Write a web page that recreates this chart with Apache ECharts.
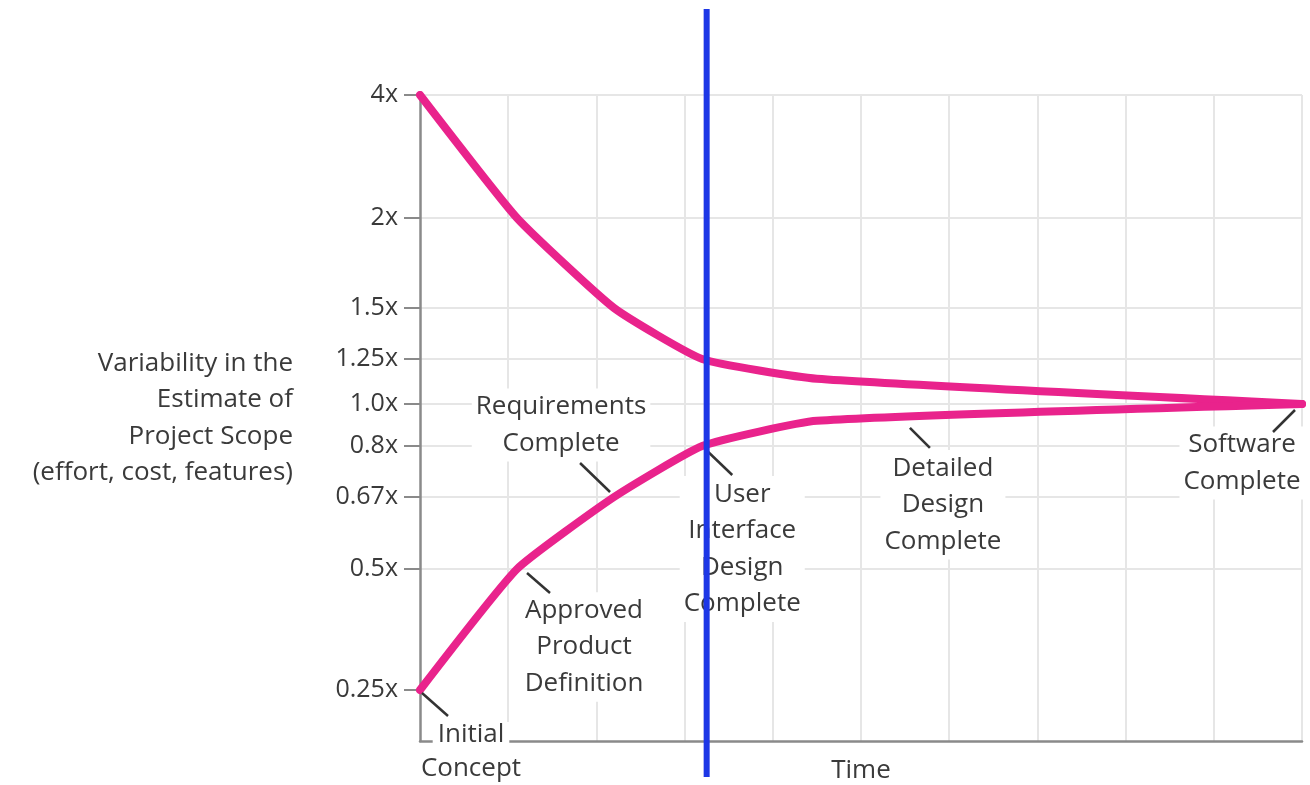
<!DOCTYPE html>
<html><head><meta charset="utf-8">
<script src="https://cdn.jsdelivr.net/npm/echarts@6/dist/echarts.min.js"></script>
<style>html,body{margin:0;padding:0;background:#fff}#chart{width:1310px;height:785px}</style>
</head><body><div id="chart"></div>
<script>
// ---- data ----
const milestoneTime = [0, 1.1, 2.2, 3.2, 4.5, 10];
const upperEstimate = [4, 2, 1.5, 1.25, 1.14, 1.0];
const lowerEstimate = [0.25, 0.5, 0.67, 0.8, 0.92, 1.0];
const milestoneNames = ['Initial\nConcept', 'Approved\nProduct\nDefinition', 'Requirements\nComplete',
  'User\nInterface\nDesign\nComplete', 'Detailed\nDesign\nComplete', 'Software\nComplete'];
const yTickValues = [0.25, 0.5, 0.67, 0.8, 1.0, 1.25, 1.5, 2, 4];
const yTickLabels = ['0.25x', '0.5x', '0.67x', '0.8x', '1.0x', '1.25x', '1.5x', '2x', '4x'];
// hand-drawn vertical scale of the original: axis units assigned to each tick value
const yScaleStops = [51, 172, 244, 295, 337, 382, 433, 523, 646];
const yScaleMax = 646;
const timeMax = 10;
const markerTime = 3.25;

function toAxis(v) {
  for (let i = 0; i < yTickValues.length - 1; i++) {
    const a = yTickValues[i], b = yTickValues[i + 1];
    if (v >= a && v <= b) return yScaleStops[i] + (v - a) / (b - a) * (yScaleStops[i + 1] - yScaleStops[i]);
  }
  return v < yTickValues[0] ? yScaleStops[0] : yScaleStops[yScaleStops.length - 1];
}

const FONT = 'Open Sans';
const TXT = '#3a3a3a';
const PINK = '#e9238c';
const GRID = '#e6e6e6';
const AXIS = '#8a8a8a';

const chart = echarts.init(document.getElementById('chart'));
chart.setOption({
  animation: false,
  backgroundColor: '#fff',
  grid: { left: 420, right: 8, top: 95, bottom: 44, outerBoundsMode: 'none', containLabel: false },
  xAxis: {
    type: 'value', min: 0, max: timeMax, interval: 1, z: 1,
    axisLine: { show: true, onZero: false, lineStyle: { color: AXIS, width: 2.5 } },
    axisTick: { show: false }, axisLabel: { show: false },
    splitLine: { show: true, showMinLine: false, lineStyle: { color: GRID, width: 2 } },
    name: 'Time', nameLocation: 'middle', nameGap: 30,
    nameTextStyle: { fontFamily: FONT, fontSize: 26, color: TXT, verticalAlign: 'middle' }
  },
  yAxis: {
    type: 'value', min: 0, max: yScaleMax, z: 1,
    axisLine: { show: true, lineStyle: { color: AXIS, width: 2.5 } },
    axisTick: { show: true, length: 16, customValues: yScaleStops, lineStyle: { color: AXIS, width: 2 } },
    axisLabel: {
      customValues: yScaleStops, margin: 22,
      formatter: v => yTickLabels[yScaleStops.indexOf(v)] || '',
      fontFamily: FONT, fontSize: 25, color: TXT
    },
    splitLine: { show: true, showMinLine: false, lineStyle: { color: GRID, width: 2 } },
    name: 'Variability in the\nEstimate of\nProject Scope\n(effort, cost, features)',
    nameLocation: 'middle', nameRotate: 0, nameGap: 127,
    nameTextStyle: { fontFamily: FONT, fontSize: 26, color: TXT, align: 'right', verticalAlign: 'middle', lineHeight: 36.5 }
  },
  series: [
    { type: 'line', name: 'upper', data: milestoneTime.map((t, i) => [t, toAxis(upperEstimate[i])]),
      showSymbol: false, smooth: 0.15, z: 3,
      lineStyle: { color: PINK, width: 8, cap: 'round', join: 'round' } },
    { type: 'line', name: 'lower', data: milestoneTime.map((t, i) => [t, toAxis(lowerEstimate[i])]),
      showSymbol: false, smooth: 0.15, z: 3,
      lineStyle: { color: PINK, width: 8, cap: 'round', join: 'round' } }
  ]
});

// ---- annotations anchored to the data points ----
const pts = milestoneTime.map((t, i) => chart.convertToPixel({ gridIndex: 0 }, [t, toAxis(lowerEstimate[i])]));
// per milestone: leader start/end offsets and label centre offset (styling)
const ann = [
  { l: [2, 3, 28, 26], t: [51, 45] },
  { l: [10, 4, 33, 24], t: [67, 78] },
  { l: [-4, -5, -34, -34], t: [-53, -72] },
  { l: [6, 6, 30, 29], t: [40, 103] },
  { l: [93, 7, 113, 27], t: [126, 84] },
  { l: [-7, 6, -29, 28], t: [-60, 59] }
];
const g = [];
ann.forEach((a, i) => {
  const p = pts[i];
  g.push({ type: 'line', z: 5, shape: { x1: p[0] + a.l[0], y1: p[1] + a.l[1], x2: p[0] + a.l[2], y2: p[1] + a.l[3] },
    style: { stroke: '#333', lineWidth: 2.5 } });
  if (i === 0) {
    const lines = milestoneNames[0].split('\n');
    g.push({ type: 'text', z: 4, x: p[0] + a.t[0], y: p[1] + a.t[1],
      style: { text: lines[0], fontFamily: FONT, fontSize: 26, fill: TXT, align: 'center', verticalAlign: 'middle',
        backgroundColor: '#fff', padding: [0, 5] } });
    g.push({ type: 'text', z: 4, x: p[0] + a.t[0], y: p[1] + a.t[1] + 34,
      style: { text: lines[1], fontFamily: FONT, fontSize: 26, fill: TXT, align: 'center', verticalAlign: 'middle' } });
  } else {
    g.push({ type: 'text', z: 4, x: p[0] + a.t[0], y: p[1] + a.t[1],
      style: { text: milestoneNames[i], fontFamily: FONT, fontSize: 26, fill: TXT, align: 'center', verticalAlign: 'middle',
        lineHeight: 36.5, backgroundColor: '#fff', padding: [0, 4] } });
  }
});
const bx = chart.convertToPixel({ gridIndex: 0 }, [markerTime, 0])[0];
g.push({ type: 'line', z: 100, shape: { x1: bx, y1: 9, x2: bx, y2: 777 }, style: { stroke: '#1d37e6', lineWidth: 6 } });
chart.setOption({ graphic: g });
</script>
</body></html>
